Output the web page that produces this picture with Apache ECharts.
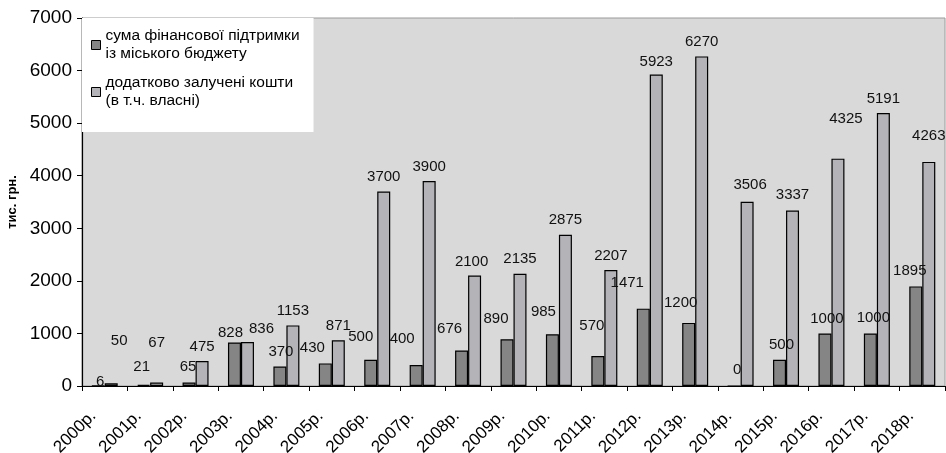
<!DOCTYPE html>
<html>
<head>
<meta charset="utf-8">
<script src="https://cdn.jsdelivr.net/npm/echarts@6/dist/echarts.min.js"></script>
<style>
html,body{margin:0;padding:0;background:#fff;}
#chart{width:946px;height:453px;}
</style>
</head>
<body>
<div id="chart"></div>
<script>
const categories = ['2000р.','2001р.','2002р.','2003р.','2004р.','2005р.','2006р.','2007р.','2008р.','2009р.','2010р.','2011р.','2012р.','2013р.','2014р.','2015р.','2016р.','2017р.','2018р.'];
const cityBudget = [6,21,65,828,370,430,500,400,676,890,985,570,1471,1200,0,500,1000,1000,1895];
const attracted = [50,67,475,836,1153,871,3700,3900,2100,2135,2875,2207,5923,6270,3506,3337,4325,5191,4263];
const seriesNames = ['сума фінансової підтримки\nіз міського бюджету', 'додатково залучені кошти\n(в т.ч. власні)'];
const yTicks = [0,1000,2000,3000,4000,5000,6000,7000];

// label nudges (styling only)
const darkNudge = [[2,9],[-2,-5],[-1,-3],[-4,3],[1,-2],[-13,-3],[-10,-10],[-14,-14],[-12,-9],[-11,-8],[-9,-10],[-6,-18],[-16,-13],[-8,-8],[3,-3],[2,-2],[2,-2],[3,-3],[-6,-3]];
const lightNudge = [[8,-30],[0,-27],[0,-2],[14,-1],[0,-2],[0,-2],[0,-2],[0,-2],[-3,-1],[0,-2],[0,-2],[0,-2],[0,0],[0,-2],[3,-4],[0,-3],[8,-27],[0,-2],[0,-14]];

const FONT = '"Liberation Sans", Arial, sans-serif';
const chart = echarts.init(document.getElementById('chart'), null, {renderer:'canvas'});

function build(values, nudges){
  return values.map((v,i)=>({value:v, label:{offset:nudges[i]}}));
}

chart.setOption({
  animation:false,
  backgroundColor:'#ffffff',
  textStyle:{fontFamily:FONT},
  grid:{left:82,right:1,top:18,bottom:67,containLabel:false,outerBoundsMode:'none',show:true,backgroundColor:'#d9d9d9',borderColor:'#9a9a9a',borderWidth:1},
  legend:{
    left:82, top:18,
    orient:'vertical',
    backgroundColor:'#ffffff',
    padding:[0,14,13,9],
    itemGap:-7,
    itemWidth:9, itemHeight:9,
    icon:'rect',
    itemStyle:{borderColor:'#000',borderWidth:1},
    textStyle:{fontFamily:FONT,fontSize:15.5,color:'#000',lineHeight:18,padding:[18,0,0,0]},
    data:seriesNames
  },
  xAxis:{
    type:'category',
    data:categories,
    axisLine:{lineStyle:{color:'#000',width:1.2}},
    axisTick:{show:true,length:5,lineStyle:{color:'#000'}},
    axisLabel:{rotate:45,fontSize:17,color:'#000',fontFamily:FONT,margin:16,interval:0,padding:[0,16,0,0]}
  },
  yAxis:{
    type:'value',
    min:yTicks[0], max:yTicks[yTicks.length-1], interval:1000,
    name:'тис. грн.',
    nameLocation:'middle',
    nameGap:58,
    nameTextStyle:{fontFamily:FONT,fontSize:13,fontWeight:'bold',color:'#000'},
    axisLine:{show:true,lineStyle:{color:'#000',width:1.2}},
    axisTick:{show:true,length:5,lineStyle:{color:'#000'}},
    axisLabel:{fontSize:19,color:'#000',fontFamily:FONT,margin:10,formatter:(v)=>String(v)},
    splitLine:{show:false}
  },
  series:[
    {
      name:seriesNames[0], type:'bar', barWidth:13, barGap:'0%',
      itemStyle:{color:'#858585',borderColor:'#000',borderWidth:1.2},
      label:{show:true,position:'top',fontSize:15,color:'#111',fontFamily:FONT},
      data:build(cityBudget,darkNudge)
    },
    {
      name:seriesNames[1], type:'bar', barWidth:13, barGap:'0%',
      itemStyle:{color:'#b4b4b8',borderColor:'#000',borderWidth:1.2},
      label:{show:true,position:'top',fontSize:15,color:'#111',fontFamily:FONT},
      data:build(attracted,lightNudge)
    }
  ]
});
</script>
</body>
</html>
